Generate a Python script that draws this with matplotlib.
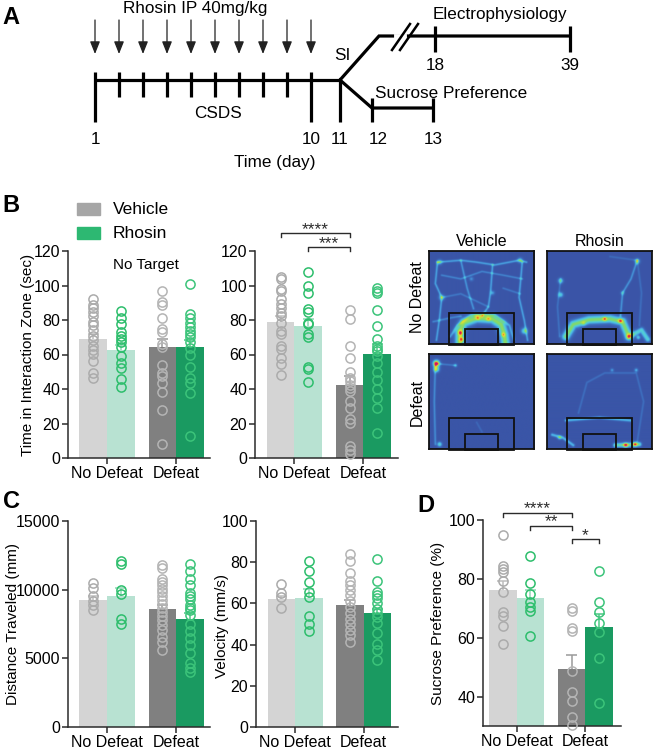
import numpy as np
import matplotlib
matplotlib.use("Agg")
import matplotlib.pyplot as plt
from matplotlib.patches import Rectangle
from matplotlib.colors import LinearSegmentedColormap

plt.rcParams['font.family'] = ['Liberation Sans', 'DejaVu Sans']

# ---------------- data ----------------
groups = ["No Defeat", "Defeat"]
treatments = ["Vehicle", "Rhosin"]

# order: NoDefeat-Vehicle, NoDefeat-Rhosin, Defeat-Vehicle, Defeat-Rhosin
si_notarget_mean = [69.0, 62.4, 64.2, 64.2]
si_notarget_sem = [3.1, 3.3, 5.0, 4.0]
si_notarget_pts = [
    [91.9, 88.6, 86.7, 84.8, 82.3, 79.0, 77.0, 74.1, 70.6, 68.3, 64.8, 62.5, 60.2, 56.3, 49.4, 46.6],
    [85.3, 81.3, 77.6, 73.0, 71.0, 68.9, 67.4, 64.1, 59.2, 54.8, 51.9, 45.7, 41.2],
    [97.0, 90.6, 88.6, 81.3, 74.5, 73.2, 66.0, 64.1, 53.8, 49.4, 47.4, 43.7, 38.3, 27.7, 7.9],
    [100.8, 83.2, 81.3, 78.4, 75.7, 73.7, 71.8, 70.3, 67.4, 63.5, 59.6, 52.8, 46.4, 43.5, 37.7, 12.6],
]

si_target_mean = [78.9, 76.4, 42.3, 60.5]
si_target_sem = [3.7, 4.3, 5.5, 5.3]
si_target_pts = [
    [105.0, 103.5, 98.1, 96.7, 91.9, 89.0, 87.0, 83.8, 82.2, 78.3, 73.5, 72.1, 64.8, 62.9, 58.0, 54.7, 48.0],
    [107.9, 100.0, 95.7, 86.5, 84.5, 78.3, 77.4, 72.1, 70.2, 52.6, 51.6, 43.9],
    [85.7, 80.3, 64.8, 58.0, 49.7, 46.4, 44.5, 42.5, 40.6, 38.7, 33.3, 29.0, 22.6, 20.3, 7.2, 4.8, 2.5],
    [98.5, 97.0, 95.5, 85.7, 76.8, 69.1, 64.8, 63.3, 61.9, 59.0, 55.1, 49.7, 45.1, 40.0, 34.8, 29.0, 14.5],
]

dist_mean = [9274, 9540, 8573, 7873]
dist_sem = [241, 603, 338, 435]
dist_pts = [
    [10481, 10143, 9515, 9177, 8863, 8501],
    [12123, 11834, 9950, 9660, 7897, 7535],
    [11761, 11592, 10795, 10553, 10312, 10071, 9829, 9515, 9274, 8984, 8694, 8380, 8066, 7776, 7414, 7052, 6569, 6207, 5603],
    [11882, 11351, 10795, 10312, 9757, 9515, 9346, 8863, 8694, 8501, 8139, 7535, 7003, 6448, 5965, 5361, 4685, 4275, 4033],
]

vel_mean = [62.2, 62.7, 59.1, 55.1]
vel_sem = [1.6, 4.3, 2.5, 2.4]
vel_pts = [
    [69.5, 65.0, 63.0, 58.0],
    [80.4, 75.6, 70.3, 65.4, 63.3, 53.7, 49.8, 46.6],
    [84.2, 80.7, 74.6, 71.1, 69.1, 66.6, 64.3, 61.1, 58.2, 55.3, 52.6, 49.8, 47.3, 44.5, 41.3],
    [81.5, 71.0, 65.6, 64.0, 62.4, 60.0, 57.5, 55.4, 53.2, 50.6, 45.7, 40.5, 37.3, 32.4],
]

sucrose_mean = [76.2, 73.5, 49.2, 63.5]
sucrose_sem = [3.2, 2.7, 5.0, 4.6]
sucrose_pts = [
    [95.0, 84.5, 83.4, 82.2, 79.4, 75.4, 68.6, 67.5, 64.1, 57.9],
    [87.9, 78.5, 74.9, 72.0, 70.3, 69.2, 60.5],
    [70.1, 69.2, 63.3, 62.2, 48.6, 41.5, 38.6, 33.0, 30.5],
    [82.6, 72.0, 68.6, 64.9, 61.8, 53.1, 37.7],
]

# timeline (panel A)
csds_days = [1, 2, 3, 4, 5, 6, 7, 8, 9, 10]
injection_days = [1, 2, 3, 4, 5, 6, 7, 8, 9, 10]
si_day = 11
sucrose_days = [12, 13]
ephys_days = [18, 39]
labelled_days = [1, 10, 11, 12, 13]

# heat map tracks (normalised arena coords, x right, y down): (points, weight, width)
hm_paths = {
    "ND_Veh": [
        ([(0.08, 0.12), (0.30, 0.10), (0.45, 0.12), (0.62, 0.15), (0.85, 0.10), (0.92, 0.12)], 0.8, 0.8),
        ([(0.08, 0.12), (0.06, 0.35), (0.12, 0.50), (0.10, 0.72), (0.07, 0.96)], 0.8, 0.8),
        ([(0.12, 0.26), (0.30, 0.30), (0.50, 0.22), (0.70, 0.26), (0.88, 0.30)], 0.6, 0.7),
        ([(0.60, 0.15), (0.58, 0.45), (0.56, 0.60), (0.50, 0.70)], 0.8, 0.8),
        ([(0.30, 0.10), (0.36, 0.40), (0.42, 0.62)], 0.7, 0.8),
        ([(0.88, 0.12), (0.85, 0.50), (0.90, 0.75), (0.93, 0.96)], 0.8, 0.8),
        ([(0.12, 0.50), (0.30, 0.46), (0.56, 0.60)], 0.5, 0.7),
        ([(0.04, 0.76), (0.20, 0.72), (0.30, 0.70)], 0.6, 0.8),
        ([(0.70, 0.40), (0.86, 0.46)], 0.5, 0.7),
        ([(0.29, 0.99), (0.29, 0.86), (0.33, 0.77), (0.45, 0.72), (0.60, 0.73), (0.68, 0.79), (0.71, 0.90), (0.72, 0.99)], 1.75, 3.2),
        ([(0.20, 0.92), (0.27, 0.80), (0.40, 0.69), (0.62, 0.69), (0.76, 0.80), (0.80, 0.95)], 0.7, 1.0),
    ],
    "ND_Rho": [
        ([(0.86, 0.10), (0.80, 0.30), (0.72, 0.45), (0.70, 0.70)], 0.7, 0.8),
        ([(0.86, 0.10), (0.90, 0.45), (0.88, 0.80)], 0.4, 0.7),
        ([(0.60, 0.06), (0.86, 0.10)], 0.35, 0.7),
        ([(0.13, 0.30), (0.10, 0.60), (0.12, 0.92)], 0.45, 0.7),
        ([(0.18, 0.92), (0.25, 0.79), (0.40, 0.74), (0.60, 0.73), (0.72, 0.76), (0.78, 0.92)], 1.7, 2.8),
        ([(0.78, 0.92), (0.90, 0.85), (0.96, 0.95)], 1.3, 1.8),
    ],
    "D_Veh": [
        ([(0.06, 0.10), (0.05, 0.50), (0.06, 0.95)], 0.65, 0.8),
        ([(0.06, 0.10), (0.25, 0.12)], 0.5, 0.7),
        ([(0.45, 0.72), (0.50, 0.82)], 0.3, 0.7),
    ],
    "D_Rho": [
        ([(0.30, 0.62), (0.38, 0.30), (0.55, 0.20), (0.85, 0.20), (0.92, 0.50), (0.86, 0.92)], 0.4, 0.7),
        ([(0.18, 0.70), (0.50, 0.67), (0.80, 0.70)], 0.95, 1.0),
        ([(0.05, 0.85), (0.15, 0.88), (0.25, 0.96)], 0.95, 1.1),
        ([(0.65, 0.96), (0.88, 0.95)], 1.5, 1.5),
    ],
}
hm_spots = {
    "ND_Veh": [(0.10, 0.12, 0.35, 1.8), (0.12, 0.50, 0.35, 2.0), (0.86, 0.10, 0.35, 1.8),
               (0.60, 0.45, 0.25, 1.5), (0.40, 0.30, 0.22, 1.5), (0.90, 0.86, 0.45, 2.2),
               (0.30, 0.88, 0.45, 1.8), (0.31, 0.95, 0.45, 1.8), (0.46, 0.72, 0.30, 1.5),
               (0.56, 0.73, 0.28, 1.5), (0.70, 0.90, 0.30, 1.4)],
    "ND_Rho": [(0.13, 0.32, 0.40, 1.8), (0.13, 0.47, 0.40, 1.8), (0.86, 0.11, 0.40, 1.8),
               (0.72, 0.45, 0.25, 1.4), (0.55, 0.73, 0.38, 1.4), (0.70, 0.75, 0.42, 1.6),
               (0.87, 0.93, 0.38, 1.4), (0.35, 0.78, 0.20, 1.5)],
    "D_Veh": [(0.07, 0.10, 1.00, 2.2), (0.07, 0.16, 0.60, 2.0), (0.10, 0.95, 0.45, 1.6),
              (0.25, 0.12, 0.25, 1.3)],
    "D_Rho": [(0.75, 0.96, 0.60, 1.6), (0.84, 0.95, 0.50, 1.6), (0.85, 0.17, 0.30, 1.3),
              (0.62, 0.17, 0.25, 1.2), (0.12, 0.88, 0.35, 1.4)],
}

# ---------------- figure ----------------
W, H = 653, 750
fig = plt.figure(figsize=(W / 100, H / 100), dpi=100)


def add_ax(l, t, r, b):
    return fig.add_axes([l / W, 1 - b / H, (r - l) / W, (b - t) / H])


bar_colors = ['#D4D4D4', '#B8E2D2', '#808080', '#1A9A61']
pt_colors = ['#ABABAB', '#2DBE6C', '#B4B4B4', '#3CC47A']
sem_colors = ['#BDBDBD', '#8ED8B4', '#9A9A9A', '#4CC985']
xpos = [-0.2, 0.2, 0.8, 1.2]
ink = '#2B2B2B'
TICK_FS = 11.5
LAB_FS = 11


def bar_panel(ax, means, sems, pts, ylim, yticks, xlim):
    ax.bar(xpos, means, width=0.4, color=bar_colors, zorder=1)
    for x, m, s, p, pc, sc in zip(xpos, means, sems, pts, pt_colors, sem_colors):
        ax.vlines(x, m, m + s, color=sc, lw=1.1, zorder=2)
        ax.hlines(m + s, x - 0.08, x + 0.08, color=sc, lw=1.1, zorder=2)
        ax.plot(np.full(len(p), x), p, 'o', mfc='none', mec=pc, ms=6.6, mew=1.1,
                zorder=3, clip_on=False)
    ax.set_ylim(*ylim)
    ax.set_yticks(yticks)
    ax.set_xlim(*xlim)
    ax.set_xticks([0, 1])
    ax.set_xticklabels(groups)
    for sp in ['top', 'right']:
        ax.spines[sp].set_visible(False)
    for sp in ['left', 'bottom']:
        ax.spines[sp].set_linewidth(1.1)
        ax.spines[sp].set_color(ink)
    ax.tick_params(length=4, width=1.1, color=ink, labelsize=TICK_FS, pad=1.5)


def bracket(ax, x1, x2, y, h, txt, dy):
    ax.plot([x1, x1, x2, x2], [y - h, y, y, y - h], color=ink, lw=1.0, clip_on=False)
    ax.text((x1 + x2) / 2, y + dy, txt, ha='center', va='center', fontsize=12.5, color=ink,
            clip_on=False)


# ---------------- panel A ----------------
axA = add_ax(0, 0, W, 180)
axA.set_xlim(0, W)
axA.set_ylim(180, 0)
axA.axis('off')
day_x = {1: 95, 2: 119, 3: 143, 4: 167, 5: 191, 6: 215, 7: 239, 8: 263, 9: 287, 10: 311,
         11: 340, 12: 372, 13: 433, 18: 435, 39: 570}
lwA = 2.3
axA.plot([day_x[csds_days[0]], day_x[si_day]], [80, 80], color='k', lw=lwA, solid_capstyle='butt')
for d in csds_days:
    bottom = 122 if d in labelled_days else 97
    axA.plot([day_x[d], day_x[d]], [72, bottom], color='k', lw=lwA, solid_capstyle='butt')
axA.plot([day_x[si_day], day_x[si_day]], [80, 122], color='k', lw=lwA, solid_capstyle='butt')
for d in injection_days:
    axA.annotate('', xy=(day_x[d], 54), xytext=(day_x[d], 20),
                 arrowprops=dict(arrowstyle='-|>,head_width=0.3,head_length=0.75',
                                 color='#222222', lw=0.9, shrinkA=0, shrinkB=0))
# lower branch (sucrose preference)
axA.plot([day_x[si_day], day_x[sucrose_days[0]], day_x[sucrose_days[1]]], [80, 108, 108],
         color='k', lw=lwA, solid_joinstyle='miter')
for d in sucrose_days:
    axA.plot([day_x[d], day_x[d]], [98, 122], color='k', lw=lwA, solid_capstyle='butt')
# upper branch (electrophysiology)
axA.plot([day_x[si_day], 379, day_x[ephys_days[1]]], [80, 36, 36], color='k', lw=lwA,
         solid_joinstyle='miter')
for d in ephys_days:
    axA.plot([day_x[d], day_x[d]], [26, 52], color='k', lw=lwA, solid_capstyle='butt')
axA.plot([396, 404], [36, 36], color='white', lw=3.5)
axA.plot([392, 410], [50, 24], color='k', lw=1.8)
axA.plot([400, 418], [50, 24], color='k', lw=1.8)
fsA = 12.3
for d in labelled_days:
    axA.text(day_x[d] + (6 if d == 12 else 0), 139, str(d), ha='center', va='center', fontsize=fsA)
for d in ephys_days:
    axA.text(day_x[d], 66, str(d), ha='center', va='center', fontsize=fsA)
axA.text(195, 8, 'Rhosin IP 40mg/kg', ha='center', va='center', fontsize=fsA)
axA.text(218, 113, 'CSDS', ha='center', va='center', fontsize=fsA)
axA.text(275, 162, 'Time (day)', ha='center', va='center', fontsize=fsA)
axA.text(342, 55, 'SI', ha='center', va='center', fontsize=fsA)
axA.text(500, 15, 'Electrophysiology', ha='center', va='center', fontsize=fsA)
axA.text(451, 93, 'Sucrose Preference', ha='center', va='center', fontsize=fsA)

# panel letters
for letter, (x, y) in {'A': (11, 17), 'B': (11, 206), 'C': (11, 502), 'D': (426, 505)}.items():
    fig.text(x / W, 1 - y / H, letter, ha='center', va='center', fontsize=17, fontweight='bold')

# ---------------- panel B ----------------
axB1 = add_ax(68, 251, 210, 458)
bar_panel(axB1, si_notarget_mean, si_notarget_sem, si_notarget_pts, (0, 120),
          range(0, 121, 20), (-0.565, 1.49))
axB1.text(0.55, 0.93, 'No Target', transform=axB1.transAxes, ha='center', va='center', fontsize=11)
fig.text(28 / W, 1 - 355 / H, 'Time in Interaction Zone (sec)', rotation=90, ha='center',
         va='center', fontsize=LAB_FS)

axB2 = add_ax(255, 251, 398, 458)
bar_panel(axB2, si_target_mean, si_target_sem, si_target_pts, (0, 120),
          range(0, 121, 20), (-0.57, 1.5))
bracket(axB2, xpos[0], xpos[2], 130.6, 2.3, '****', 2.0)
bracket(axB2, xpos[1], xpos[2], 122.3, 2.3, '***', 2.0)

# legend
for i, (lab, col) in enumerate(zip(treatments, ['#A6A6A6', '#2DB872'])):
    yc = 209 + 24 * i
    fig.add_artist(Rectangle((77 / W, 1 - (yc + 6) / H), 23 / W, 12 / H, color=col,
                             transform=fig.transFigure))
    fig.text(113 / W, 1 - yc / H, lab, ha='left', va='center', fontsize=12.5)

# heat maps
cmap = LinearSegmentedColormap.from_list('track', [
    (0.00, '#3A55A7'), (0.14, '#3E72C2'), (0.28, '#4AAEE6'), (0.42, '#52D0D8'),
    (0.55, '#7ED870'), (0.68, '#C8E03A'), (0.78, '#F2D832'), (0.90, '#EE3A2A'), (1.00, '#D0106A')])

NX, NY = 210, 186
gx, gy = np.meshgrid((np.arange(NX) + 0.5) / NX, (np.arange(NY) + 0.5) / NY)
PX, PY = gx * 105, gy * 93


def track_image(paths, spots):
    img = np.zeros((NY, NX))
    for pts, w, sig in paths:
        best = np.zeros_like(img)
        for (x0, y0), (x1, y1) in zip(pts[:-1], pts[1:]):
            ax_, ay_, bx_, by_ = x0 * 105, y0 * 93, x1 * 105, y1 * 93
            dx, dy = bx_ - ax_, by_ - ay_
            t = np.clip(((PX - ax_) * dx + (PY - ay_) * dy) / (dx * dx + dy * dy + 1e-9), 0, 1)
            d2 = (PX - (ax_ + t * dx)) ** 2 + (PY - (ay_ + t * dy)) ** 2
            best = np.maximum(best, np.exp(-d2 / (2 * sig ** 2)))
        img += 0.33 * w * best
    for x, y, a, s in spots:
        img += a * np.exp(-((PX - x * 105) ** 2 + (PY - y * 93) ** 2) / (2 * s ** 2))
    return np.clip(img, 0, 1)


hm_boxes = {"ND_Veh": (429, 251, 534, 344), "ND_Rho": (547, 251, 652, 344),
            "D_Veh": (429, 354, 534, 449), "D_Rho": (547, 354, 652, 449)}
for key, (l, t, r, b) in hm_boxes.items():
    ax = add_ax(l, t, r, b)
    ax.imshow(track_image(hm_paths[key], hm_spots[key]), cmap=cmap, vmin=0, vmax=1,
              extent=(0, 1, 1, 0), aspect='auto', interpolation='bilinear')
    ax.set_xlim(0, 1)
    ax.set_ylim(1, 0)
    ax.set_xticks([])
    ax.set_yticks([])
    for sp in ax.spines.values():
        sp.set_linewidth(1.3)
        sp.set_color('#111111')
    ax.add_patch(Rectangle((0.19, 0.67), 0.62, 0.34, fill=False, ec='#111111', lw=1.3, clip_on=False))
    ax.add_patch(Rectangle((0.345, 0.84), 0.315, 0.17, fill=False, ec='#111111', lw=1.3, clip_on=False))

fig.text(482 / W, 1 - 242 / H, 'Vehicle', ha='center', va='center', fontsize=11.5)
fig.text(600 / W, 1 - 242 / H, 'Rhosin', ha='center', va='center', fontsize=11.5)
fig.text(417 / W, 1 - 297 / H, 'No Defeat', rotation=90, ha='center', va='center', fontsize=11.5)
fig.text(417 / W, 1 - 402 / H, 'Defeat', rotation=90, ha='center', va='center', fontsize=11.5)

# ---------------- panel C ----------------
axC1 = add_ax(68, 521, 210, 727)
bar_panel(axC1, dist_mean, dist_sem, dist_pts, (0, 15000), [0, 5000, 10000, 15000],
          (-0.565, 1.49))
fig.text(13 / W, 1 - 624 / H, 'Distance Traveled (mm)', rotation=90, ha='center',
         va='center', fontsize=LAB_FS)

axC2 = add_ax(256, 521, 398, 727)
bar_panel(axC2, vel_mean, vel_sem, vel_pts, (0, 100), range(0, 101, 20), (-0.57, 1.5))
fig.text(222 / W, 1 - 626 / H, 'Velocity (mm/s)', rotation=90, ha='center',
         va='center', fontsize=LAB_FS)

# ---------------- panel D ----------------
axD = add_ax(483, 520, 621, 726)
bar_panel(axD, sucrose_mean, sucrose_sem, sucrose_pts, (30, 100), [40, 60, 80, 100],
          (-0.49, 1.52))
bracket(axD, xpos[0], xpos[2], 102.4, 1.4, '****', 1.3)
bracket(axD, xpos[1], xpos[2], 98.0, 1.4, '**', 1.3)
bracket(axD, xpos[2], xpos[3], 93.5, 1.4, '*', 1.3)
fig.text(438 / W, 1 - 623 / H, 'Sucrose Preference (%)', rotation=90, ha='center',
         va='center', fontsize=LAB_FS)

fig.savefig('out.png', dpi=100)
